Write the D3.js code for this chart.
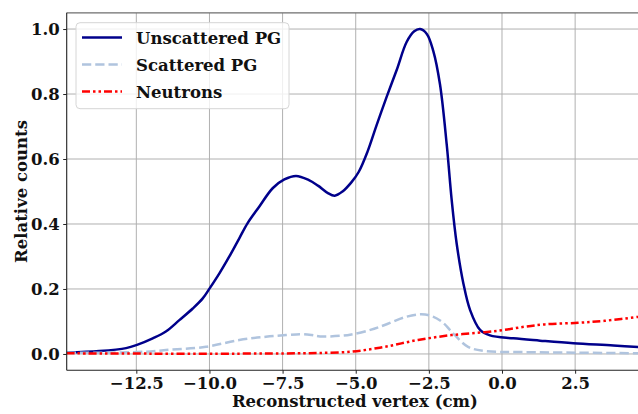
<!DOCTYPE html>
<html>
<head>
<meta charset="utf-8">
<script src="https://cdn.jsdelivr.net/npm/d3@7"></script>
<style>
  html, body { margin: 0; padding: 0; background: #fff; }
  svg { display: block; }
  text { font-family: "DejaVu Serif", serif; font-weight: bold; fill: #111; }
</style>
</head>
<body>
<svg id="chart" width="638" height="414"></svg>
<script>
// Reconstructed vertex position (cm) vs. relative counts, per component
const unscatteredX = [-14.88, -13.77, -12.85, -12.5, -11.94, -11.49, -11.03, -10.57, -10.23, -10.0, -9.66, -9.32, -8.98, -8.70, -8.30, -7.84, -7.44, -7.04, -6.60, -6.29, -5.95, -5.72, -5.45, -5.15, -4.90, -4.60, -4.28, -3.94, -3.60, -3.26, -3.00, -2.80, -2.57, -2.35, -2.12, -1.89, -1.72, -1.55, -1.32, -1.09, -0.75, -0.41, 0.39, 1.30, 2.44, 3.81, 4.82];
const unscatteredY = [0.004, 0.009, 0.018, 0.027, 0.048, 0.069, 0.104, 0.140, 0.171, 0.201, 0.248, 0.300, 0.356, 0.402, 0.453, 0.510, 0.537, 0.548, 0.535, 0.518, 0.495, 0.487, 0.500, 0.528, 0.560, 0.622, 0.706, 0.792, 0.874, 0.960, 0.993, 1.000, 0.985, 0.933, 0.830, 0.645, 0.474, 0.340, 0.217, 0.135, 0.074, 0.057, 0.048, 0.041, 0.033, 0.026, 0.020];

const scatteredX = [-14.88, -13.5, -12.17, -11.49, -10.12, -8.98, -8.07, -7.38, -6.90, -6.50, -6.22, -5.50, -5.15, -4.50, -4.01, -3.33, -2.76, -2.36, -2.00, -1.73, -1.16, -0.59, 0.55, 2.50, 4.82];
const scatteredY = [0.004, 0.004, 0.007, 0.012, 0.022, 0.043, 0.053, 0.058, 0.061, 0.058, 0.054, 0.056, 0.060, 0.074, 0.089, 0.113, 0.122, 0.115, 0.095, 0.069, 0.022, 0.009, 0.006, 0.004, 0.002];

const neutronX = [-14.88, -12.0, -9.0, -7.0, -6.29, -5.15, -4.01, -2.87, -1.73, -0.59, 0.09, 0.78, 1.46, 2.60, 3.51, 4.82];
const neutronY = [0.002, 0.001, 0.001, 0.002, 0.003, 0.007, 0.022, 0.043, 0.058, 0.067, 0.074, 0.084, 0.091, 0.096, 0.102, 0.116];

const xTicks = [-12.5, -10.0, -7.5, -5.0, -2.5, 0.0, 2.5];
const yTicks = [0.0, 0.2, 0.4, 0.6, 0.8, 1.0];

const seriesNames = ["Unscattered PG", "Scattered PG", "Neutrons"];

const series = [
  { name: seriesNames[0], xs: unscatteredX, ys: unscatteredY, color: "#00008b", dash: null },
  { name: seriesNames[1], xs: scatteredX, ys: scatteredY, color: "#b0c4de", dash: "9.25,4" },
  { name: seriesNames[2], xs: neutronX, ys: neutronY, color: "#ff0000", dash: "8,3,2.5,3,2.5,3" }
];

const svg = d3.select("#chart");
const pLeft = 66.7, pTop = 12.8, pRight = 643, pBottom = 370.2;

const x = d3.scaleLinear().domain([-14.88, 4.82]).range([pLeft, pRight]);
const y = d3.scaleLinear().domain([-0.05, 1.05]).range([pBottom, pTop]);

// clip region for plot contents
svg.append("defs").append("clipPath").attr("id", "plotClip")
  .append("rect").attr("x", pLeft).attr("y", pTop).attr("width", pRight - pLeft).attr("height", pBottom - pTop);

// grid
const grid = svg.append("g").attr("clip-path", "url(#plotClip)");
grid.selectAll("line.vx").data(xTicks).join("line")
  .attr("class", "vx")
  .attr("x1", d => x(d)).attr("x2", d => x(d))
  .attr("y1", pTop).attr("y2", pBottom)
  .attr("stroke", "#b0b0b0").attr("stroke-width", 1);
grid.selectAll("line.hy").data(yTicks).join("line")
  .attr("class", "hy")
  .attr("x1", pLeft).attr("x2", pRight)
  .attr("y1", d => y(d)).attr("y2", d => y(d))
  .attr("stroke", "#b0b0b0").attr("stroke-width", 1);

// curves
const lineGen = d3.line()
  .x(d => x(d[0])).y(d => y(d[1]))
  .curve(d3.curveCatmullRom.alpha(0.5));

const plot = svg.append("g").attr("clip-path", "url(#plotClip)");
series.forEach(s => {
  const pts = s.xs.map((v, i) => [v, s.ys[i]]);
  plot.append("path")
    .attr("d", lineGen(pts))
    .attr("fill", "none")
    .attr("stroke", s.color)
    .attr("stroke-width", 2.5)
    .attr("stroke-dasharray", s.dash)
    .attr("stroke-linejoin", "round");
});

// axes
const xAxis = d3.axisBottom(x).tickValues(xTicks).tickFormat(d3.format(".1f"))
  .tickSizeInner(3.5).tickSizeOuter(0).tickPadding(4);
const yAxis = d3.axisLeft(y).tickValues(yTicks).tickFormat(d3.format(".1f"))
  .tickSizeInner(3.5).tickSizeOuter(0).tickPadding(3.5);

const gx = svg.append("g").attr("transform", `translate(0,${pBottom})`).call(xAxis);
const gy = svg.append("g").attr("transform", `translate(${pLeft},0)`).call(yAxis);
[gx, gy].forEach(g => {
  g.select(".domain").remove();
  g.selectAll(".tick line").attr("stroke", "#222").attr("stroke-width", 1);
  g.selectAll(".tick text").style("font-family", "DejaVu Serif, serif")
    .style("font-weight", "bold").style("font-size", "16.5px").attr("fill", "#111");
});
gx.selectAll(".tick text").attr("dy", "0.71em");

// spines
svg.append("line").attr("x1", pLeft).attr("x2", pRight).attr("y1", pTop).attr("y2", pTop)
  .attr("stroke", "#6e6e6e").attr("stroke-width", 1.3);
svg.append("line").attr("x1", pLeft).attr("x2", pLeft).attr("y1", pTop).attr("y2", pBottom)
  .attr("stroke", "#222").attr("stroke-width", 1.1);
svg.append("line").attr("x1", pLeft).attr("x2", pRight).attr("y1", pBottom).attr("y2", pBottom)
  .attr("stroke", "#222").attr("stroke-width", 1.1);

// axis labels
svg.append("text")
  .attr("x", (pLeft + pRight) / 2).attr("y", 407)
  .attr("text-anchor", "middle")
  .style("font-size", "16.5px")
  .text("Reconstructed vertex (cm)");
svg.append("text")
  .attr("transform", `translate(26.5,${(pTop + pBottom) / 2}) rotate(-90)`)
  .attr("text-anchor", "middle")
  .style("font-size", "16.5px")
  .text("Relative counts");

// legend
const legend = svg.append("g");
legend.append("rect")
  .attr("x", 76).attr("y", 22.7).attr("width", 213).attr("height", 86)
  .attr("rx", 4).attr("ry", 4)
  .attr("fill", "#fff").attr("fill-opacity", 0.8)
  .attr("stroke", "#d6d6d6").attr("stroke-width", 1);
series.forEach((s, i) => {
  const cy = 37.5 + i * 27;
  legend.append("line")
    .attr("x1", 82).attr("x2", 122).attr("y1", cy).attr("y2", cy)
    .attr("stroke", s.color).attr("stroke-width", 2.5)
    .attr("stroke-dasharray", s.dash);
  legend.append("text")
    .attr("x", 136).attr("y", cy + 6.5)
    .style("font-size", "16.5px")
    .text(s.name);
});
</script>
</body>
</html>
